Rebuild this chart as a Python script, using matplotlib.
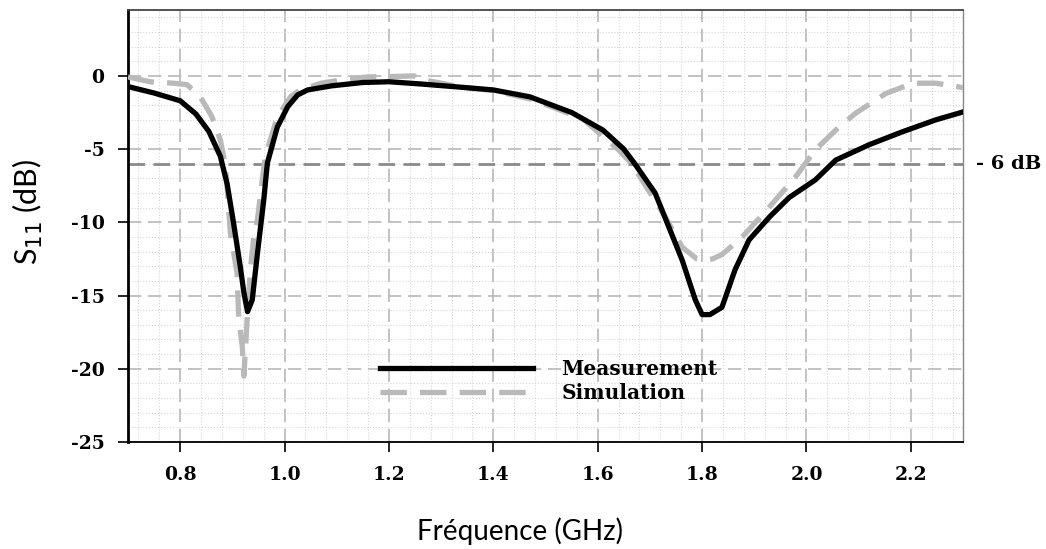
import numpy as np
import matplotlib
matplotlib.use("Agg")
import matplotlib.pyplot as plt
from matplotlib.ticker import MultipleLocator

# Mesure (courbe noire)
freq_mes = [0.70, 0.75, 0.80, 0.83, 0.855, 0.877, 0.89, 0.902, 0.915, 0.922, 0.929,
            0.938, 0.948, 0.96, 0.967, 0.986, 1.006, 1.025, 1.044, 1.09, 1.15, 1.20,
            1.26, 1.33, 1.40, 1.47, 1.55, 1.61, 1.65, 1.67, 1.71, 1.736, 1.762, 1.787,
            1.80, 1.815, 1.838, 1.863, 1.89, 1.93, 1.967, 2.017, 2.056, 2.12, 2.185,
            2.248, 2.30]
s11_mes = [-0.73, -1.17, -1.7, -2.6, -3.8, -5.5, -7.4, -10.0, -13.0, -14.8, -16.1,
           -15.3, -12.1, -8.5, -5.95, -3.5, -2.1, -1.3, -0.96, -0.68, -0.45, -0.4,
           -0.55, -0.75, -0.96, -1.43, -2.5, -3.7, -5.0, -5.95, -8.0, -10.3, -12.6, -15.3,
           -16.3, -16.3, -15.8, -13.25, -11.2, -9.6, -8.3, -7.1, -5.75, -4.7, -3.8,
           -3.0, -2.46]

# Simulation (courbe grise)
freq_sim = [0.70, 0.742, 0.787, 0.813, 0.838, 0.861, 0.877, 0.887, 0.896, 0.909, 0.912,
            0.919, 0.922, 0.929, 0.935, 0.941, 0.948, 0.963, 0.986, 1.012, 1.03, 1.07,
            1.121, 1.16, 1.20, 1.248, 1.267, 1.344, 1.40, 1.473, 1.57, 1.64, 1.665,
            1.729, 1.762, 1.79, 1.806, 1.82, 1.838, 1.877, 1.929, 1.979, 2.017, 2.056,
            2.094, 2.152, 2.204, 2.248, 2.30]
s11_sim = [-0.07, -0.4, -0.5, -0.6, -1.4, -2.8, -4.4, -6.2, -10.7, -13.5, -16.5,
           -18.5, -20.5, -16.2, -13.0, -11.0, -9.8, -5.5, -2.8, -1.4, -0.96, -0.5,
           -0.2, -0.07, -0.05, 0.0, -0.27, -0.8, -1.0, -1.6, -2.9, -5.05, -6.0,
           -9.6, -11.7, -12.5, -12.6, -12.5, -12.2, -11.0, -8.95, -6.9, -5.05, -3.7,
           -2.55, -1.2, -0.5, -0.5, -0.8]

seuil_db = -6
xticks = [0.8, 1.0, 1.2, 1.4, 1.6, 1.8, 2.0, 2.2]
yticks = [0, -5, -10, -15, -20, -25]

plt.rcParams['axes.unicode_minus'] = False
serif_bold = dict(family='DejaVu Serif', weight='bold')

fig = plt.figure(figsize=(10.46, 5.49), dpi=100)
ax = fig.add_axes([0.1224, 0.1949, 0.7983, 0.7869])

ax.plot(freq_mes, s11_mes, color='black', lw=3.8, zorder=4, label='Measurement',
        solid_joinstyle='round')
ax.plot(freq_sim, s11_sim, color='#b9b9b9', lw=3.8, dashes=(5, 2.5), zorder=3,
        label='Simulation', dash_joinstyle='round')
ax.axhline(seuil_db, color='#8a8a8a', lw=2, dashes=(6, 3), zorder=2)
ax.annotate('- 6 dB', xy=(1.015, seuil_db), xycoords=('axes fraction', 'data'),
            va='center', ha='left', fontsize=14, annotation_clip=False, **serif_bold)

ax.set_xlim(0.7, 2.3)
ax.set_ylim(-25, 4.5)
ax.set_xticks(xticks)
ax.set_xticklabels([f'{v:.1f}' for v in xticks])
ax.set_yticks(yticks)
ax.set_yticklabels([str(v) for v in yticks])
ax.xaxis.set_minor_locator(MultipleLocator(0.04))
ax.yaxis.set_minor_locator(MultipleLocator(1))

ax.grid(which='major', color='#b8b8b8', lw=1.2, dashes=(8, 4))
ax.grid(which='minor', color='#d6d6d6', lw=0.8, linestyle=':')
ax.set_axisbelow(True)

ax.tick_params(which='major', direction='out', length=7, width=1.2, pad=10,
               top=False, right=False)
ax.tick_params(which='minor', length=0)
for lab in ax.get_xticklabels() + ax.get_yticklabels():
    lab.set_fontfamily('DejaVu Serif')
    lab.set_fontweight('bold')
    lab.set_fontsize(13.5)

ax.spines['left'].set_linewidth(2)
ax.spines['bottom'].set_linewidth(1.3)
ax.spines['top'].set_color('#444444')
ax.spines['top'].set_linewidth(1.3)
ax.spines['right'].set_color('#888888')
ax.spines['right'].set_linewidth(1)

leg = ax.legend(loc='center left', bbox_to_anchor=(1.183, -20.85),
                bbox_transform=ax.transData, frameon=False, handlelength=7.6,
                handletextpad=1.4, labelspacing=0.2, borderpad=0, borderaxespad=0,
                prop=dict(family='DejaVu Serif', weight='bold', size=14.5))

ax.set_xlabel('Fréquence (GHz)', fontfamily='Lato', fontsize=20)
ax.xaxis.set_label_coords(0.469, -0.175)
ax.set_ylabel('S$_{11}$ (dB)', fontfamily='Lato', fontsize=22)
ax.yaxis.set_label_coords(-0.1, 0.532)

fig.savefig('out.png', dpi=100)
